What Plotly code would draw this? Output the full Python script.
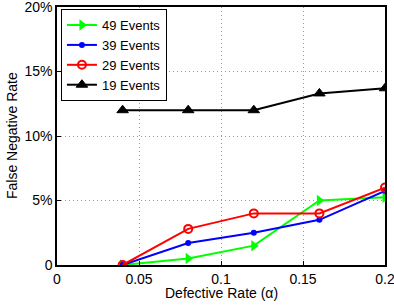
import plotly.graph_objects as go

alpha = [0.04, 0.08, 0.12, 0.16, 0.2]
fn_49 = [0.0, 0.5, 1.5, 5.0, 5.25]
fn_39 = [0.0, 1.7, 2.5, 3.5, 5.75]
fn_29 = [0.0, 2.8, 4.0, 4.0, 6.0]
fn_19 = [12.0, 12.0, 12.0, 13.3, 13.7]

x_ticks = [0, 0.05, 0.1, 0.15, 0.2]
x_tick_text = ["0", "0.05", "0.1", "0.15", "0.2"]
y_ticks = [0, 5, 10, 15, 20]
y_tick_text = ["0", "5%", "10%", "15%", "20%"]

FONT = "Liberation Sans, Arial, sans-serif"

fig = go.Figure()
fig.add_trace(go.Scatter(x=alpha, y=fn_49, name="49 Events", mode="lines+markers",
                         line=dict(color="#00ff00", width=2),
                         marker=dict(symbol="triangle-right", size=10, color="#00ff00")))
fig.add_trace(go.Scatter(x=alpha, y=fn_39, name="39 Events", mode="lines+markers",
                         line=dict(color="#0000ff", width=2),
                         marker=dict(symbol="circle", size=6, color="#0000ff")))
fig.add_trace(go.Scatter(x=alpha, y=fn_29, name="29 Events", mode="lines+markers",
                         line=dict(color="#ff0000", width=2),
                         marker=dict(symbol="circle-open", size=8, color="#ff0000", line=dict(width=2))))
fig.add_trace(go.Scatter(x=alpha, y=fn_19, name="19 Events", mode="lines+markers",
                         line=dict(color="#000000", width=2),
                         marker=dict(symbol="triangle-up", size=10, color="#000000",
                                     line=dict(width=1, color="#000000"))))

axis_common = dict(showline=True, linecolor="black", linewidth=1.5, mirror=True,
                   ticks="inside", ticklen=4, tickcolor="black",
                   showgrid=True, gridcolor="#999999", griddash="1px,3px", gridwidth=1,
                   zeroline=False, automargin=False, ticklabeloverflow="allow",
                   tickfont=dict(family=FONT, size=14, color="black"))

fig.update_xaxes(range=[0, 0.2], tickvals=x_ticks, ticktext=x_tick_text, **axis_common)
fig.update_yaxes(range=[0, 20], tickvals=y_ticks, ticktext=y_tick_text, **axis_common)

fig.add_annotation(text="Defective Rate (α)", xref="paper", yref="paper", x=0.5, y=-0.108,
                   xanchor="center", yanchor="middle", showarrow=False,
                   font=dict(family=FONT, size=14, color="black"))
fig.add_annotation(text="False Negative Rate", xref="paper", yref="paper", x=-0.137, y=0.5,
                   xanchor="center", yanchor="middle", textangle=-90, showarrow=False,
                   font=dict(family=FONT, size=14, color="black"))

fig.update_layout(width=394, height=306, margin=dict(l=57, r=9, t=7, b=41, autoexpand=False),
                  plot_bgcolor="white", paper_bgcolor="white",
                  font=dict(family=FONT, size=14, color="black"),
                  legend=dict(x=0.012, y=0.992, xanchor="left", yanchor="top",
                              bgcolor="white", bordercolor="black", borderwidth=1,
                              font=dict(family=FONT, size=13), tracegroupgap=0, itemwidth=30),
                  showlegend=True)

fig.write_html("out.html", config={"displayModeBar": False},
               post_script="document.body.style.margin='0';")
